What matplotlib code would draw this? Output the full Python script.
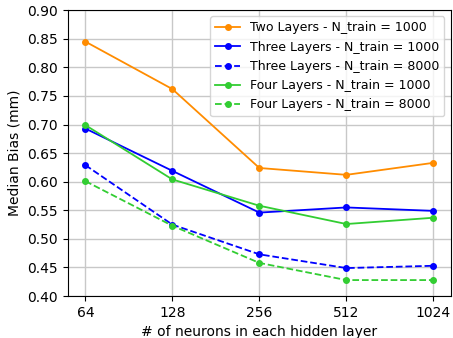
import matplotlib
matplotlib.use("Agg")
import matplotlib.pyplot as plt
from matplotlib.ticker import FixedLocator, NullLocator, FixedFormatter, FormatStrFormatter

neurons = [64, 128, 256, 512, 1024]
two_1000 = [0.845, 0.762, 0.624, 0.612, 0.633]
three_1000 = [0.693, 0.619, 0.546, 0.555, 0.549]
three_8000 = [0.629, 0.525, 0.473, 0.449, 0.453]
four_1000 = [0.699, 0.604, 0.558, 0.526, 0.537]
four_8000 = [0.601, 0.523, 0.458, 0.428, 0.428]

fig, ax = plt.subplots(figsize=(4.53, 3.38), dpi=100)
fig.subplots_adjust(left=0.150, right=0.995, top=0.970, bottom=0.124)

ms = 4
lw = 1.3
ax.plot(neurons, two_1000, '-o', color='darkorange', ms=ms, lw=lw, label='Two Layers - N_train = 1000')
ax.plot(neurons, three_1000, '-o', color='blue', ms=ms, lw=lw, label='Three Layers - N_train = 1000')
ax.plot(neurons, three_8000, '--o', color='blue', ms=ms, lw=lw, label='Three Layers - N_train = 8000')
ax.plot(neurons, four_1000, '-o', color='limegreen', ms=ms, lw=lw, label='Four Layers - N_train = 1000')
ax.plot(neurons, four_8000, '--o', color='limegreen', ms=ms, lw=lw, label='Four Layers - N_train = 8000')

ax.set_xscale('log', base=2)
ax.xaxis.set_major_locator(FixedLocator(neurons))
ax.xaxis.set_major_formatter(FixedFormatter([str(n) for n in neurons]))
ax.xaxis.set_minor_locator(NullLocator())
ax.set_xlim(64 / 2**0.2, 1024 * 2**0.2)
ax.set_ylim(0.40, 0.90)
ax.set_yticks([0.40, 0.45, 0.50, 0.55, 0.60, 0.65, 0.70, 0.75, 0.80, 0.85, 0.90])
ax.yaxis.set_major_formatter(FormatStrFormatter('%.2f'))
ax.grid(True, color='#c8c8c8', linewidth=1)
ax.set_axisbelow(True)

ax.set_xlabel('# of neurons in each hidden layer')
ax.set_ylabel('Median Bias (mm)')
ax.legend(loc='upper right', fontsize=9)

fig.savefig('out.png', dpi=100)
